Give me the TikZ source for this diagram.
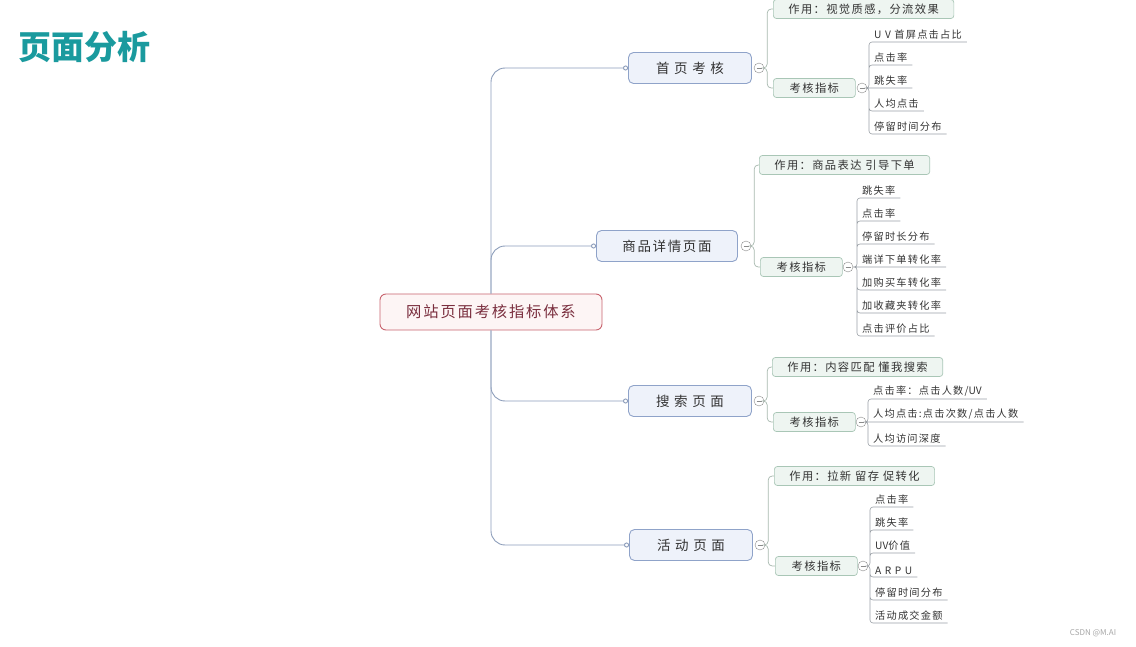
\documentclass[tikz,border=0pt]{standalone}
\usepackage{fontspec}
\setmainfont{Noto Sans CJK SC}[LetterSpace=12]
\newfontfamily\titlefont{Noto Sans CJK SC}
\usepackage{xcolor}
\definecolor{cTitle}{HTML}{1A9A9E}
\definecolor{cRoot}{HTML}{C8646E}
\definecolor{cRootFill}{HTML}{FDF5F5}
\definecolor{cRootText}{HTML}{7A2E3E}
\definecolor{cPage}{HTML}{8FA3C9}
\definecolor{cPageFill}{HTML}{EEF2FA}
\definecolor{cRole}{HTML}{A9C6B6}
\definecolor{cRoleFill}{HTML}{EEF5F1}
\definecolor{cText}{HTML}{333333}
\definecolor{cTrunk}{HTML}{8C9DBA}
\definecolor{cSubLine}{HTML}{A7B8AE}
\definecolor{cLeafLine}{HTML}{9AA0A6}
\definecolor{cFold}{HTML}{8A8A8A}
\usepackage{tikz}
\usetikzlibrary{positioning,arrows.meta}
\tikzset{
  node-root/.style={draw=cRoot,fill=cRootFill,text=cRootText,line width=0.9pt,
    rounded corners=6pt,minimum width=222pt,minimum height=36pt,
    font=\fontsize{15.3}{18}\selectfont},
  node-page/.style={draw=cPage,fill=cPageFill,text=cText,line width=0.9pt,
    rounded corners=5pt,minimum width=123pt,minimum height=31pt,
    font=\fontsize{13.5}{15}\selectfont},
  node-role/.style={draw=cRole,fill=cRoleFill,text=cText,line width=0.7pt,
    rounded corners=3pt,minimum height=19pt,inner xsep=15pt,anchor=west,
    font=\fontsize{11.3}{13}\selectfont},
  node-kpi/.style={node-role,minimum width=82pt,inner xsep=4pt},
  node-leaf/.style={anchor=south west,inner xsep=5pt,inner ysep=2pt,text=cText,
    font=\fontsize{10.2}{12}\selectfont},
  node-fold/.style={circle,draw=cFold,fill=white,minimum size=10pt,inner sep=0pt,
    path picture={\draw[cFold] ([xshift=-2.5pt]path picture bounding box.center)
      -- ([xshift=2.5pt]path picture bounding box.center);}},
  edge-main/.style={draw=cTrunk,line width=0.9pt,rounded corners=14pt,
    -{Circle[open,length=5pt,fill=white]}},
  edge-sub/.style={draw=cSubLine,line width=0.7pt,rounded corners=4pt},
  edge-leaf/.style={draw=cLeafLine,line width=0.6pt,rounded corners=3pt},
}
\begin{document}
\begin{tikzpicture}[x=1pt,y=-1pt]
  \useasboundingbox (0,0) rectangle (1136,647);
  \node[font=\titlefont\bfseries\fontsize{33}{35}\selectfont,text=cTitle,anchor=west]
    (title) at (15,47) {页面分析};
  \node[node-root] (root) at (491,312) {网站页面考核指标体系};
  % 四个页面
  \node[node-page] (p1) at (690,68) {首 页 考 核};
  \node[node-page,minimum width=141pt] (p2) at (667,246) {商品详情页面};
  \node[node-page] (p3) at (690,401) {搜 索 页 面};
  \node[node-page] (p4) at (691,545) {活 动 页 面};
  \draw[edge-main] (root.north) |- (p1.west);
  \draw[edge-main] (root.north) |- (p2.west);
  \draw[edge-main] (root.south) |- (p3.west);
  \draw[edge-main] (root.south) |- (p4.west);
  \node[node-fold] (f1) at (759,68) {};
  \node[node-fold] (f2) at (746,246) {};
  \node[node-fold] (f3) at (759,401) {};
  \node[node-fold] (f4) at (760,545) {};
  % 作用 / 考核指标
  \node[node-role] (r1) at (773,9) {作用：视觉质感，分流效果};
  \node[node-kpi] (k1) at (773,88) {考核指标};
  \node[node-role] (r2) at (759,165) {作用：商品表达 引导下单};
  \node[node-kpi] (k2) at (760,267) {考核指标};
  \node[node-role] (r3) at (772,367) {作用：内容匹配 懂我搜索};
  \node[node-kpi] (k3) at (773,422) {考核指标};
  \node[node-role] (r4) at (774,476) {作用：拉新 留存 促转化};
  \node[node-kpi] (k4) at (775,566) {考核指标};
  \draw[edge-sub] (f1.east) -- ++(3,0) |- (r1.west) (f1.east) -- ++(3,0) |- (k1.west);
  \draw[edge-sub] (f2.east) -- ++(3,0) |- (r2.west) (f2.east) -- ++(3,0) |- (k2.west);
  \draw[edge-sub] (f3.east) -- ++(3,0) |- (r3.west) (f3.east) -- ++(3,0) |- (k3.west);
  \draw[edge-sub] (f4.east) -- ++(3,0) |- (r4.west) (f4.east) -- ++(3,0) |- (k4.west);
  \node[node-fold] (g1) at (862,88) {};
  \node[node-fold] (g2) at (848,267) {};
  \node[node-fold] (g3) at (861,422) {};
  \node[node-fold] (g4) at (863,566) {};
  % 首页考核指标
  \node[node-leaf] (l11) at (869,42) {U V 首屏点击占比};
  \node[node-leaf] (l12) at (869,65) {点击率};
  \node[node-leaf] (l13) at (869,88) {跳失率};
  \node[node-leaf] (l14) at (869,111) {人均点击};
  \node[node-leaf] (l15) at (869,134) {停留时间分布};
  \draw[edge-leaf] (g1.east) -| (l11.south west) -- (l11.south east)
    (g1.east) -| (l12.south west) -- (l12.south east)
    (g1.east) -- (l13.south east)
    (g1.east) -| (l14.south west) -- (l14.south east)
    (g1.east) -| (l15.south west) -- (l15.south east);
  % 商品详情页面指标
  \node[node-leaf] (l21) at (857,198) {跳失率};
  \node[node-leaf] (l22) at (857,221) {点击率};
  \node[node-leaf] (l23) at (857,244) {停留时长分布};
  \node[node-leaf] (l24) at (857,267) {端详下单转化率};
  \node[node-leaf] (l25) at (857,290) {加购买车转化率};
  \node[node-leaf] (l26) at (857,313) {加收藏夹转化率};
  \node[node-leaf] (l27) at (857,336) {点击评价占比};
  \draw[edge-leaf] (g2.east) -| (l21.south west) -- (l21.south east)
    (g2.east) -| (l22.south west) -- (l22.south east)
    (g2.east) -| (l23.south west) -- (l23.south east)
    (g2.east) -- (l24.south east)
    (g2.east) -| (l25.south west) -- (l25.south east)
    (g2.east) -| (l26.south west) -- (l26.south east)
    (g2.east) -| (l27.south west) -- (l27.south east);
  % 搜索页面指标
  \node[node-leaf] (l31) at (868,399) {点击率：点击人数/{\titlefont UV}};
  \node[node-leaf] (l32) at (868,422) {人均点击:点击次数/点击人数};
  \node[node-leaf] (l33) at (868,446) {人均访问深度};
  \draw[edge-leaf] (g3.east) -| (l31.south west) -- (l31.south east)
    (g3.east) -- (l32.south east)
    (g3.east) -| (l33.south west) -- (l33.south east);
  % 活动页面指标
  \node[node-leaf] (l41) at (870,507) {点击率};
  \node[node-leaf] (l42) at (870,530) {跳失率};
  \node[node-leaf] (l43) at (870,553) {{\titlefont UV}价值};
  \node[node-leaf] (l44) at (870,577) {A R P U};
  \node[node-leaf] (l45) at (870,600) {停留时间分布};
  \node[node-leaf] (l46) at (870,623) {活动成交金额};
  \draw[edge-leaf] (g4.east) -| (l41.south west) -- (l41.south east)
    (g4.east) -| (l42.south west) -- (l42.south east)
    (g4.east) -| (l43.south west) -- (l43.south east)
    (g4.east) -| (l44.south west) -- (l44.south east)
    (g4.east) -| (l45.south west) -- (l45.south east)
    (g4.east) -| (l46.south west) -- (l46.south east);
  \node[text=black!35,font=\titlefont\fontsize{8}{9}\selectfont] (mark) at (1093,633) {CSDN @M.AI};
\end{tikzpicture}
\end{document}
